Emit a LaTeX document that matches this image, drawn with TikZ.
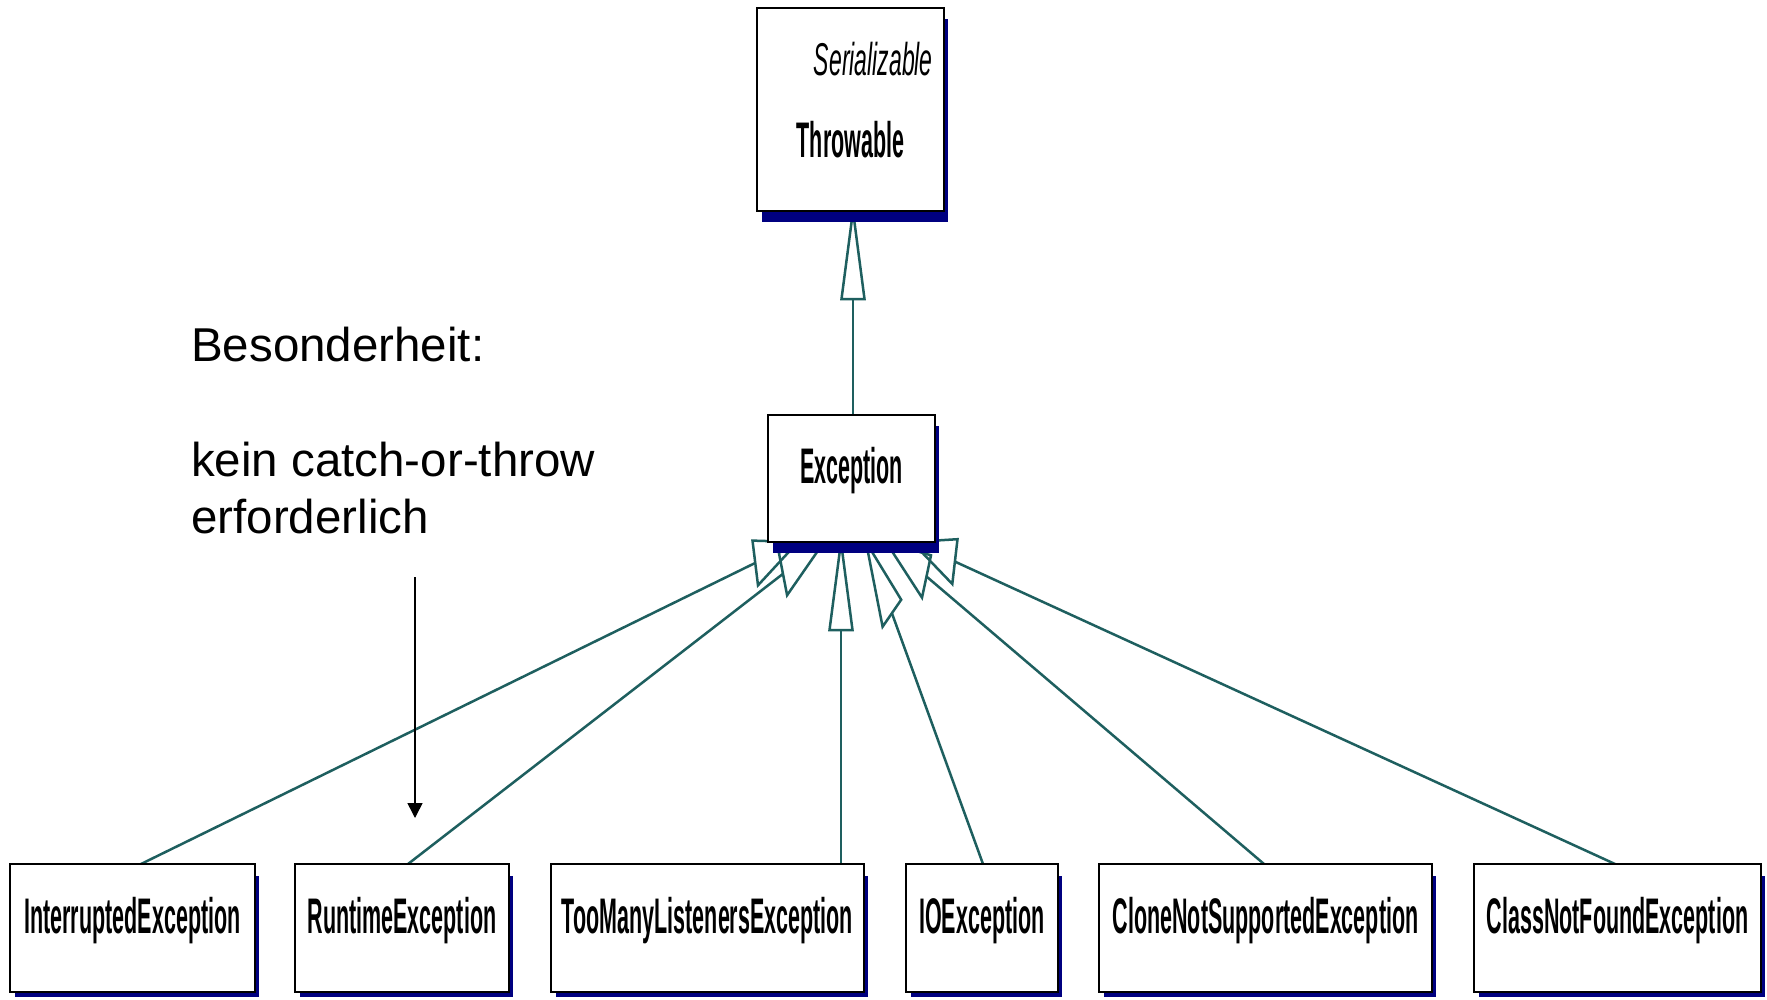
\documentclass[tikz,border=0pt]{standalone}
\usepackage{fontspec}
\setmainfont{Liberation Sans}
\newfontfamily\clsfont{Liberation Sans}[FakeStretch=0.43]
\newfontfamily\serfont{Liberation Sans}[FakeStretch=0.5]
\usetikzlibrary{calc,arrows.meta}
\pgfdeclarelayer{bg}
\pgfdeclarelayer{conn}
\pgfdeclarelayer{shad}
\pgfsetlayers{bg,conn,shad,main}
\definecolor{tealline}{RGB}{30,95,95}
\definecolor{navyshadow}{RGB}{0,0,128}
\begin{document}
\begin{tikzpicture}[x=1pt,y=-1pt,
  cls/.style={draw=black, line width=2pt, fill=white, inner xsep=0pt, inner ysep=0pt,
    outer sep=0pt, anchor=north west,
    font=\clsfont\bfseries\fontsize{50}{50}\selectfont},
  lowbox/.style={cls, text height=69pt, text depth=59pt},
  serif/.style={inner sep=0pt, font=\serfont\itshape\fontsize{46}{46}\selectfont},
  note/.style={inner sep=0pt, anchor=base west, font=\fontsize{47.5}{57.5}\selectfont},
  conn/.style={draw=tealline, line width=2.5pt, line join=miter},
  shadowfill/.style={fill=navyshadow}
]
\useasboundingbox (0,0) rectangle (1767,999);
\begin{pgfonlayer}{bg}
  \fill[white] (0,0) rectangle (1767,999);
\end{pgfonlayer}

% ---------- class boxes ----------
\node[cls, minimum width=187pt, text height=149pt, text depth=54pt] (thr) at (757,8) {Throwable};
\node[serif, anchor=base east] (ser) at (933,75) {Serializable};
\node[cls, minimum width=167pt, text height=68pt, text depth=59pt] (exc) at (768,415) {Exception};

\node[lowbox, minimum width=245pt] (intr) at (10,864) {InterruptedException};
\node[lowbox, minimum width=214pt] (rte) at (295,864) {RuntimeException};
\node[lowbox, minimum width=313pt] (tml) at (551,864) {TooManyListenersException};
\node[lowbox, minimum width=152pt] (ioe) at (906,864) {IOException};
\node[lowbox, minimum width=333pt] (cns) at (1099,864) {CloneNotSupportedException};
\node[lowbox, minimum width=287pt] (cnf) at (1474,864) {ClassNotFoundException};

% ---------- shadows ----------
\begin{pgfonlayer}{shad}
  \foreach \n in {thr,exc}{
    \fill[shadowfill] ($(\n.north west)+(5,11)$) rectangle ($(\n.south east)+(4,11)$);
  }
  \foreach \n in {intr,rte,tml,ioe,cns,cnf}{
    \fill[shadowfill] ($(\n.north west)+(5,12)$) rectangle ($(\n.south east)+(4,5)$);
  }
\end{pgfonlayer}

% ---------- generalization connectors ----------
\begin{pgfonlayer}{conn}
  % Exception -> Throwable
  \coordinate (ta) at ($(thr.south west)+(96,0)$);
  \coordinate (tm) at ($(ta)+(0,88)$);
  \draw[conn] (ta) -- ($(tm)+(-11.5,0)$) -- ($(tm)+(11.5,0)$) -- cycle;
  \draw[conn] (tm) -- (tm |- exc.north);

  % InterruptedException
  \coordinate (a1) at (798,542);
  \coordinate (m1) at (755.3,562.9);
  \coordinate (p1) at (758.0,585.3);
  \coordinate (q1) at (752.5,540.6);
  \draw[conn] (a1) -- (q1) -- (p1) -- cycle;
  \draw[conn] ($(intr.north west)+(131,0)$) -- (m1);

  % RuntimeException
  \coordinate (a2) at (824,542);
  \coordinate (m2) at (783.0,573.8);
  \coordinate (p2) at (787.1,595.2);
  \coordinate (q2) at (778.8,552.3);
  \draw[conn] (a2) -- (q2) -- (p2) -- cycle;
  \draw[conn] ($(rte.north west)+(113,0)$) -- (m2);

  % TooManyListenersException
  \coordinate (a3) at (841,542);
  \coordinate (m3) at (841,630);
  \coordinate (p3) at (852.5,630);
  \coordinate (q3) at (829.5,630);
  \draw[conn] (a3) -- (q3) -- (p3) -- cycle;
  \draw[conn] ($(tml.north east)+(-23,0)$) -- (m3);

  % IOException
  \coordinate (a4) at (866,542);
  \coordinate (m4) at (891.9,613.2);
  \coordinate (p4) at (901.2,599.7);
  \coordinate (q4) at (882.6,626.7);
  \draw[conn] (a4) -- (q4) -- (p4) -- cycle;
  \draw[conn] ($(ioe.north west)+(77,0)$) -- (m4);

  % CloneNotSupportedException
  \coordinate (a5) at (886,542);
  \coordinate (m5) at (926.5,576.5);
  \coordinate (p5) at (931.0,555.3);
  \coordinate (q5) at (922.0,597.6);
  \draw[conn] (a5) -- (q5) -- (p5) -- cycle;
  \draw[conn] ($(cns.north west)+(165,0)$) -- (m5);

  % ClassNotFoundException
  \coordinate (a6) at (912,542);
  \coordinate (m6) at (954.9,561.6);
  \coordinate (p6) at (957.5,539.2);
  \coordinate (q6) at (952.3,584.0);
  \draw[conn] (a6) -- (q6) -- (p6) -- cycle;
  \draw[conn] ($(cnf.north west)+(141,0)$) -- (m6);
\end{pgfonlayer}

% ---------- note ----------
\node[note] (n1) at (191,361) {Besonderheit:};
\node[note] (n2) at (191,476) {kein catch-or-throw};
\node[note] (n3) at (191,533) {erforderlich};
\coordinate (ns) at (415,577);
\coordinate (ne) at (415,818);
\draw[line width=1.5pt, -{Triangle[length=15pt,width=15pt]}] (ns) -- (ne);
\end{tikzpicture}
\end{document}
